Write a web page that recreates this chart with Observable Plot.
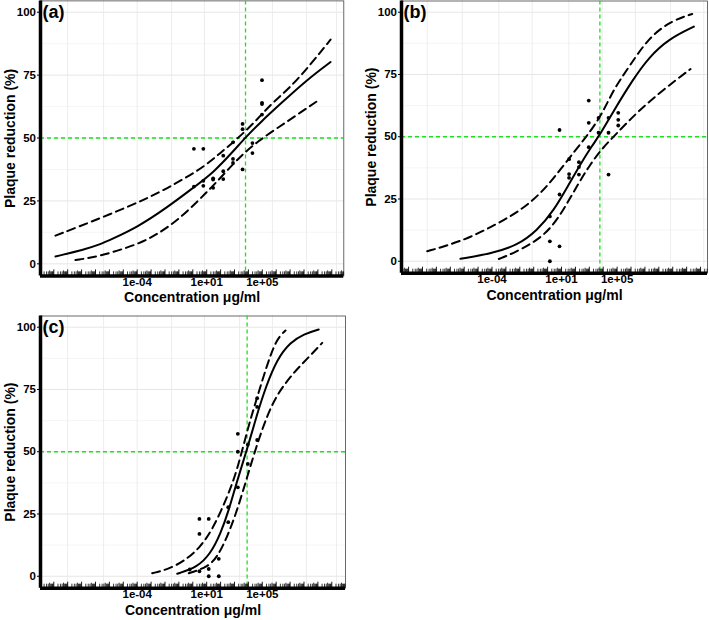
<!DOCTYPE html>
<html><head><meta charset="utf-8">
<script src="https://cdn.jsdelivr.net/npm/d3@7"></script>
<script src="https://cdn.jsdelivr.net/npm/@observablehq/plot@0.6"></script>
<style>
body{margin:0;background:#fff;}
#wrap{position:relative;width:709px;height:620px;overflow:hidden;font-family:"Liberation Sans",Arial,sans-serif;}
#wrap svg{position:absolute;}
</style></head><body><div id="wrap"></div>
<script>
// ---- texts & ticks ----
const panelLabels = ["(a)", "(b)", "(c)"];
const xTitle = "Concentration μg/ml";
const yTitle = "Plaque reduction (%)";
const xTickValues = [1e-4, 1e1, 1e5];
const xTickLabels = ["1e-04", "1e+01", "1e+05"];
const yTickValues = [0, 25, 50, 75, 100];
const yMinorGrid = [12.5, 37.5, 62.5, 87.5];
const ec50 = [6200, 5750, 8100];

// vertical grid positions (log10 concentration)
const aGridX = [-9.01, -6.42, -4.0, -1.53, 0.84, 3.36, 5.73, 8.18, 10.34];
const bGridX = [-8.66, -6.14, -3.51, -1.11, 1.53, 3.93, 6.32, 8.84, 11.23];
const cGridX = [-9.01, -6.42, -4.0, -1.53, 0.84, 3.36, 5.73, 8.18, 10.34];

// ---- panel (a) observations ----
const aDose = [1.2, 1.2, 5.7, 5.7, 5.7, 29, 29, 29, 155, 155, 155, 780, 780, 780, 3800, 3800, 3800, 19500, 19500, 95000, 95000, 95000, 95000];
const aResp = [45.7, 30.7, 45.7, 33, 31, 34, 33.5, 30.2, 43, 36.8, 33.7, 48.3, 41.7, 40.1, 55.6, 53.5, 37.5, 48, 44, 73, 64, 63.5, 59.3];
// fitted curve and confidence band: [log10 concentration, % reduction]
const aFit = [[-9.88,2.9],[-7.84,5.6],[-6.64,7.8],[-5.92,9.6],[-4.0,14.5],[-1.84,22.4],[0.07,30.4],[1.51,36.4],[2.95,45],[3.79,50.2],[4.87,56.3],[6.31,63.6],[8.23,73.2],[9.91,80.2]];
const aUpper = [[-9.88,11.2],[-6.52,18.4],[-3.04,26.4],[-0.53,34.1],[0.84,38.8],[1.99,44.1],[3.12,49.3],[4.39,55.9],[5.64,63.6],[7.03,70.2],[8.47,79.2],[9.91,89.1]];
const aLower = [[-8.44,1.5],[-6.83,2.8],[-3.88,7.8],[-2.45,12.1],[-1.08,17.4],[0.32,24.7],[1.32,30.2],[2.42,36.8],[3.55,43.4],[4.68,48.7],[6.12,54.1],[7.55,59.4],[9.12,65.3]];

// ---- panel (b) ----
const bDose = [1.45, 1.45, 1.45, 7.2, 7.2, 7.2, 35, 35, 35, 178, 178, 178, 910, 910, 910, 4600, 4600, 24000, 24000, 24000, 120000, 120000, 120000];
const bResp = [0, 8, 18, 52.7, 26.8, 6, 41, 35, 33.5, 39.8, 37.8, 34.8, 64.5, 55.6, 45.8, 57.6, 51.6, 57.6, 51.6, 34.8, 59.6, 56.8, 54.5];
const bFit = [[-6.27,1.0],[-4.11,3.0],[-2.19,6.3],[-0.75,12.3],[0.45,20.4],[1.41,29.7],[2.37,39.1],[3.21,46.5],[3.81,51.2],[4.76,60.5],[6.09,72.6],[7.28,81.9],[8.72,89.3],[10.52,94.2]];
const bUpper = [[-8.66,4],[-7.22,6.3],[-5.55,9.6],[-3.63,15],[-1.95,20.4],[-0.51,27.1],[0.69,35.1],[1.88,43.8],[2.96,51.2],[3.93,59.2],[4.76,69.2],[5.84,77.9],[7.28,90],[8.96,96.7],[10.4,99.3]];
const bLower = [[-3.51,0.9],[-2.55,3.0],[-0.15,9.9],[1.22,21.3],[2.13,30.4],[3.04,38.8],[4.0,45.8],[5.0,51.5],[6.5,60.2],[8.3,68.8],[10.28,77.2]];

// ---- panel (c) ----
const cDose = [0.6, 3, 3, 3, 14, 14, 14, 74, 74, 355, 355, 1740, 1740, 1740, 9100, 9100, 42700, 42700, 42700];
const cResp = [2.7, 23, 17, 2, 23, 2.9, 0, 7, 0, 27.7, 21.7, 57.2, 50, 35.7, 52.8, 45.1, 71.5, 68, 54.7];
const cFit = [[-1.12,1.0],[0.32,3.6],[1.27,9],[1.99,17],[2.59,26.4],[3.19,38.4],[3.91,51],[4.63,65.2],[5.25,76],[6.07,87.3],[7.03,94],[7.99,97.3],[9.06,99.1]];
const cUpper = [[-2.92,1.2],[-1.84,2.7],[-0.65,5.9],[0.55,11.6],[1.51,19.7],[2.47,31.7],[3.19,42.4],[3.91,58.5],[4.63,71.9],[5.35,85],[6.0,95],[6.67,98.7]];
const cLower = [[-0.29,1.2],[1.04,3.6],[1.76,7.6],[2.47,15.7],[3.19,26.4],[3.91,39.8],[4.63,53.2],[5.35,64.5],[6.07,73.2],[7.27,81.9],[8.23,87.3],[9.31,93.7]];

const GREEN = "#1fe01f";
const FONT = "'Liberation Sans', Arial, sans-serif";
const Y_DOMAIN = [-4.8, 104.5];

function panel(o) {
  const [lo, hi] = o.xLog;
  const fh = o.height - o.mt - o.mb;
  const longT = [], midT = [], shortT = [];
  for (let k = Math.floor(lo); k <= Math.ceil(hi); k++) {
    for (let m = 1; m <= 9; m++) {
      const v = m * 10 ** k, e = Math.log10(v);
      if (e < lo || e > hi) continue;
      (m === 1 ? longT : m === 5 ? midT : shortT).push(v);
    }
  }
  const pts = o.dose.map((d, i) => ({dose: d, resp: o.resp[i]}));
  const X = d => 10 ** d[0], Y = d => d[1];
  const svg = Plot.plot({
    width: o.width, height: o.height,
    marginLeft: o.ml, marginRight: o.mr, marginTop: o.mt, marginBottom: o.mb,
    style: {fontFamily: FONT, fontWeight: "bold", fontSize: "11.5px", background: "transparent", overflow: "visible", color: "black"},
    x: {type: "log", domain: [10 ** lo, 10 ** hi]},
    y: {domain: Y_DOMAIN},
    marks: [
      Plot.gridY(yMinorGrid, {stroke: "#f1f1f1", strokeOpacity: 1, strokeWidth: 0.7}),
      Plot.gridY(yTickValues, {stroke: "#e3e3e3", strokeOpacity: 1, strokeWidth: 0.9}),
      Plot.gridX(o.gridX.map(e => 10 ** e), {stroke: "#e8e8e8", strokeOpacity: 1, strokeWidth: 0.8}),
      Plot.frame({stroke: "#444", strokeWidth: 0.8}),
      Plot.ruleY([50], {stroke: GREEN, strokeWidth: 1.3, strokeDasharray: "4,3"}),
      Plot.ruleX([o.ec50], {stroke: GREEN, strokeWidth: 1.3, strokeDasharray: "4,3"}),
      Plot.line(o.upper, {x: X, y: Y, stroke: "black", strokeWidth: 2, strokeDasharray: "8,5", curve: "basis"}),
      Plot.line(o.lower, {x: X, y: Y, stroke: "black", strokeWidth: 2, strokeDasharray: "8,5", curve: "basis"}),
      Plot.line(o.fit, {x: X, y: Y, stroke: "black", strokeWidth: 2, curve: "basis"}),
      Plot.dot(pts, {x: "dose", y: "resp", r: 1.9, fill: "black", stroke: null}),
      Plot.ruleX(shortT, {stroke: "black", strokeWidth: 0.8, insetTop: fh - 4}),
      Plot.ruleX(midT, {stroke: "black", strokeWidth: 0.8, insetTop: fh - 5}),
      Plot.ruleX(longT, {stroke: "black", strokeWidth: 0.9, insetTop: fh - 6}),
      Plot.ruleY([Y_DOMAIN[0]], {stroke: "black", strokeWidth: 3.5}),
      Plot.ruleX([10 ** lo], {stroke: "black", strokeWidth: 3.5}),
      Plot.axisX(xTickValues, {tickSize: 0, tickPadding: 2, label: null, fontSize: 11.5, fontWeight: "bold",
        tickFormat: d => xTickLabels[xTickValues.indexOf(d)]}),
      Plot.axisY(yTickValues, {tickSize: 3, tickPadding: 1.5, label: null, fontSize: 11.5, fontWeight: "bold"}),
      Plot.text([o.label], {text: d => d, frameAnchor: "top-left", dx: 2, dy: 4, lineAnchor: "top", textAnchor: "start", fontSize: 18, fontWeight: "bold"}),
      Plot.text([xTitle], {text: d => d, frameAnchor: "bottom", dy: 22, lineAnchor: "middle", textAnchor: "middle", fontSize: 14, fontWeight: "bold"}),
      Plot.text([yTitle], {text: d => d, frameAnchor: "left", dx: -30, rotate: -90, lineAnchor: "middle", textAnchor: "middle", fontSize: 14, fontWeight: "bold"})
    ]
  });
  svg.style.left = o.left + "px";
  svg.style.top = o.top + "px";
  document.getElementById("wrap").appendChild(svg);
}

panel({label: panelLabels[0], left: 0, top: 0, width: 354, height: 305, ml: 40, mr: 10.7, mt: 0.4, mb: 29.6,
  xLog: [-10.957, 10.863], gridX: aGridX, ec50: ec50[0], dose: aDose, resp: aResp, fit: aFit, upper: aUpper, lower: aLower});
panel({label: panelLabels[1], left: 355, top: 0, width: 354, height: 305, ml: 46, mr: 2, mt: 0.5, mb: 32.3,
  xLog: [-10.51, 11.5], gridX: bGridX, ec50: ec50[1], dose: bDose, resp: bResp, fit: bFit, upper: bUpper, lower: bLower});
panel({label: panelLabels[2], left: 0, top: 310, width: 354, height: 310, ml: 40, mr: 9, mt: 5.5, mb: 32.3,
  xLog: [-10.957, 10.986], gridX: cGridX, ec50: ec50[2], dose: cDose, resp: cResp, fit: cFit, upper: cUpper, lower: cLower});
</script>
</body></html>
